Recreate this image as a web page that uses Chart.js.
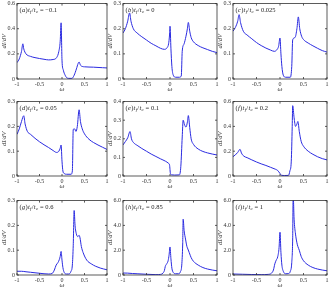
<!DOCTYPE html>
<html>
<head>
<meta charset="utf-8">
<script src="https://cdn.jsdelivr.net/npm/chart.js@4"></script>
<style>
  body { margin: 0; background: #fff; width: 332px; height: 292px; position: relative; overflow: hidden; }
  canvas { position: absolute; }
</style>
</head>
<body>
<script>
// omega grid + dI/dV values
const omegaA = [-1,-0.95,-0.9,-0.87,-0.85,-0.8,-0.7,-0.6,-0.5,-0.4,-0.3,-0.2,-0.12,-0.07,-0.04,-0.02,0,0.03,0.07,0.1,0.15,0.22,0.27,0.32,0.36,0.38,0.41,0.45,0.5,0.6,0.7,0.8,0.9,1];
const dosA   = [0.13,0.16,0.22,0.28,0.24,0.2,0.18,0.17,0.163,0.157,0.152,0.155,0.17,0.22,0.3,0.447,0.15,0.07,0.03,0.012,0.005,0.005,0.03,0.08,0.125,0.135,0.11,0.1,0.097,0.095,0.094,0.092,0.09,0.088];

const omegaB = [-1,-0.95,-0.9,-0.86,-0.83,-0.78,-0.7,-0.6,-0.5,-0.4,-0.3,-0.2,-0.12,-0.06,-0.03,-0.01,0,0.02,0.04,0.07,0.12,0.2,0.24,0.26,0.3,0.34,0.37,0.39,0.42,0.45,0.5,0.6,0.7,0.8,0.9,1];
const dosB   = [0.183,0.2,0.23,0.263,0.23,0.2,0.183,0.168,0.155,0.142,0.132,0.122,0.118,0.125,0.14,0.175,0.21,0.12,0.05,0.015,0.007,0.007,0.012,0.11,0.14,0.17,0.2,0.225,0.19,0.165,0.148,0.133,0.124,0.117,0.11,0.105];

const omegaC = [-1,-0.95,-0.9,-0.87,-0.84,-0.78,-0.7,-0.6,-0.5,-0.4,-0.3,-0.2,-0.12,-0.06,-0.03,0,0.02,0.04,0.07,0.12,0.22,0.25,0.27,0.32,0.36,0.39,0.42,0.46,0.5,0.6,0.7,0.8,0.9,1];
const dosC   = [0.19,0.205,0.23,0.256,0.225,0.19,0.175,0.16,0.145,0.133,0.123,0.115,0.11,0.118,0.13,0.163,0.1,0.05,0.015,0.007,0.007,0.05,0.156,0.165,0.2,0.247,0.2,0.17,0.157,0.143,0.132,0.122,0.113,0.107];

const omegaD = [-1,-0.95,-0.9,-0.85,-0.82,-0.77,-0.7,-0.6,-0.5,-0.4,-0.3,-0.2,-0.12,-0.07,-0.04,-0.02,0,0.02,0.05,0.1,0.2,0.23,0.25,0.28,0.31,0.34,0.38,0.41,0.45,0.5,0.6,0.7,0.8,0.9,1];
const dosD   = [0.168,0.19,0.22,0.243,0.21,0.18,0.168,0.152,0.138,0.126,0.115,0.103,0.095,0.1,0.112,0.125,0.06,0.02,0.01,0.007,0.007,0.02,0.188,0.19,0.18,0.2,0.267,0.22,0.19,0.17,0.148,0.135,0.125,0.116,0.107];

const omegaE = [-1,-0.95,-0.9,-0.85,-0.82,-0.77,-0.7,-0.6,-0.5,-0.4,-0.3,-0.2,-0.1,-0.03,-0.01,0.01,0.04,0.1,0.2,0.23,0.26,0.28,0.31,0.34,0.37,0.39,0.42,0.45,0.5,0.6,0.7,0.8,0.9,1];
const dosE   = [0.167,0.185,0.205,0.239,0.2,0.178,0.165,0.148,0.133,0.118,0.105,0.092,0.08,0.068,0.06,0.012,0.006,0.005,0.006,0.05,0.21,0.3,0.275,0.263,0.29,0.325,0.26,0.2,0.17,0.145,0.132,0.124,0.118,0.113];

const omegaF = [-1,-0.95,-0.9,-0.85,-0.82,-0.77,-0.7,-0.6,-0.5,-0.4,-0.3,-0.2,-0.1,-0.05,0,0.03,0.1,0.18,0.21,0.24,0.26,0.27,0.3,0.33,0.36,0.38,0.41,0.45,0.5,0.6,0.7,0.8,0.9,1];
const dosF   = [0.156,0.17,0.19,0.215,0.185,0.16,0.148,0.13,0.113,0.098,0.085,0.07,0.055,0.045,0.02,0.006,0.004,0.005,0.04,0.12,0.4,0.567,0.47,0.4,0.42,0.44,0.36,0.28,0.24,0.2,0.175,0.155,0.14,0.13];

const omegaG = [-1,-0.9,-0.8,-0.7,-0.6,-0.5,-0.4,-0.3,-0.22,-0.17,-0.13,-0.09,-0.06,-0.04,-0.02,0,0.02,0.05,0.1,0.15,0.2,0.23,0.25,0.27,0.29,0.32,0.35,0.38,0.4,0.43,0.47,0.55,0.65,0.75,0.85,1];
const dosG   = [0.015,0.015,0.013,0.011,0.009,0.007,0.005,0.004,0.006,0.02,0.04,0.05,0.062,0.075,0.095,0.06,0.03,0.01,0.004,0.004,0.015,0.04,0.12,0.26,0.2,0.165,0.155,0.16,0.15,0.115,0.09,0.06,0.045,0.035,0.028,0.021];

const omegaH = [-1,-0.9,-0.8,-0.7,-0.5,-0.3,-0.2,-0.15,-0.12,-0.1,-0.07,-0.04,-0.02,0,0.02,0.04,0.07,0.12,0.18,0.22,0.25,0.27,0.28,0.3,0.33,0.36,0.38,0.41,0.45,0.5,0.6,0.7,0.8,0.9,1];
const dosH   = [0.16,0.15,0.12,0.1,0.06,0.03,0.05,0.15,0.35,0.7,0.9,1.15,1.6,2.26,1.3,0.55,0.2,0.1,0.1,0.25,0.8,2.5,4.5,3.6,2.9,2.3,2.1,1.8,1.4,1.1,0.8,0.6,0.48,0.4,0.34];

const omegaI = [-1,-0.8,-0.6,-0.4,-0.25,-0.18,-0.14,-0.11,-0.08,-0.05,-0.02,0,0.02,0.04,0.07,0.12,0.18,0.22,0.25,0.27,0.28,0.3,0.33,0.36,0.38,0.41,0.45,0.5,0.6,0.7,0.8,0.9,1];
const dosI   = [0.08,0.06,0.04,0.03,0.05,0.15,0.4,0.9,1.2,1.45,2.2,3.45,1.8,0.8,0.3,0.1,0.12,0.3,1.0,3.0,6.5,4.5,3.3,2.6,2.3,2.0,1.5,1.15,0.8,0.6,0.48,0.4,0.34];

const panelLetters = ['a','b','c','d','e','f','g','h','i'];
const panelRatios = ['\u22120.1','0','0.025','0.05','0.1','0.2','0.6','0.85','1'];
const yMax = [0.6,0.3,0.3,0.3,0.4,0.6,0.3,6,6];
const yStep = [0.2,0.1,0.1,0.1,0.1,0.2,0.1,2,2];
const omegaSets = [omegaA,omegaB,omegaC,omegaD,omegaE,omegaF,omegaG,omegaH,omegaI];
const dosSets = [dosA,dosB,dosC,dosD,dosE,dosF,dosG,dosH,dosI];

const colLeft = [17, 123, 233], colRight = [107, 217, 327];
const rowTop = [2, 100, 199], rowBottom = [79, 176, 275];

const SERIF = '"Liberation Serif", "DejaVu Serif", serif';

function drawLabel(ctx, x, y, letter, ratio) {
  const parts = [
    ['(', 'normal', 6.5, 0], [letter, 'italic', 6.5, 0], [')', 'normal', 6.5, 0],
    ['t', 'italic', 6.5, 0], ['f', 'italic', 4.8, 1.5], ['/', 'normal', 6.5, 0],
    ['t', 'italic', 6.5, 0], ['c', 'italic', 4.8, 1.5], [' = ' + ratio, 'normal', 6.5, 0]
  ];
  ctx.fillStyle = '#222';
  ctx.textBaseline = 'alphabetic';
  ctx.textAlign = 'left';
  parts.forEach(p => {
    ctx.font = p[1] + ' ' + p[2] + 'px ' + SERIF;
    ctx.fillText(p[0], x, y + p[3]);
    x += ctx.measureText(p[0]).width + 0.3;
  });
}

const framePlugin = {
  id: 'frame',
  afterDraw(chart, args, opts) {
    const ctx = chart.ctx;
    const { left, top, right, bottom } = chart.chartArea;
    const xs = chart.scales.x, ys = chart.scales.y;
    ctx.save();
    ctx.strokeStyle = '#333';
    ctx.lineWidth = 0.8;
    ctx.strokeRect(left, top, right - left, bottom - top);
    ctx.beginPath();
    xs.ticks.forEach(t => {
      const p = xs.getPixelForValue(t.value);
      ctx.moveTo(p, bottom); ctx.lineTo(p, bottom - 2);
      ctx.moveTo(p, top); ctx.lineTo(p, top + 2);
    });
    ys.ticks.forEach(t => {
      const p = ys.getPixelForValue(t.value);
      ctx.moveTo(left, p); ctx.lineTo(left + 2, p);
      ctx.moveTo(right, p); ctx.lineTo(right - 2, p);
    });
    ctx.stroke();
    drawLabel(ctx, left + 2.5, top + 8, opts.letter, opts.ratio);
    ctx.restore();
  }
};

panelLetters.forEach((letter, i) => {
  const col = i % 3, row = Math.floor(i / 3);
  const plotW = colRight[col] - colLeft[col];
  const plotH = rowBottom[row] - rowTop[row];
  const padTop = 4, padRight = 4, yW = 17, xH = 14;
  const cv = document.createElement('canvas');
  cv.width = plotW + yW + padRight;
  cv.height = plotH + padTop + xH;
  cv.style.left = (colLeft[col] - yW) + 'px';
  cv.style.top = (rowTop[row] - padTop) + 'px';
  document.body.appendChild(cv);

  const pts = omegaSets[i].map((w, k) => ({ x: w, y: dosSets[i][k] }));
  const big = yMax[i] >= 1;

  new Chart(cv.getContext('2d'), {
    type: 'line',
    data: {
      datasets: [{
        data: pts,
        borderColor: '#2b2be0',
        borderWidth: 1,
        pointRadius: 0,
        cubicInterpolationMode: 'monotone',
        fill: false
      }]
    },
    options: {
      responsive: false,
      animation: false,
      layout: { padding: { top: padTop, right: padRight, left: 0, bottom: 0 } },
      plugins: {
        legend: { display: false },
        tooltip: { enabled: false },
        frame: { letter: letter, ratio: panelRatios[i] }
      },
      scales: {
        x: {
          type: 'linear', min: -1, max: 1,
          grid: { display: false, drawTicks: false },
          border: { display: false },
          ticks: {
            stepSize: 0.5, padding: 1.5, maxRotation: 0, autoSkip: false,
            color: '#333', font: { family: SERIF, size: 6 },
            callback: v => String(v)
          },
          title: { display: true, text: '\u03c9', color: '#333', padding: 0,
                   font: { family: SERIF, size: 7, style: 'italic' } },
          afterFit: s => { s.height = xH; }
        },
        y: {
          min: 0, max: yMax[i],
          grid: { display: false, drawTicks: false },
          border: { display: false },
          ticks: {
            stepSize: yStep[i], padding: 2,
            color: '#333', font: { family: SERIF, size: 6 },
            callback: v => v === 0 ? '0' : (big ? v.toFixed(1) : String(+v.toFixed(3)))
          },
          title: { display: true, text: 'dI/dV', color: '#333', padding: 0,
                   font: { family: SERIF, size: 6.5, style: 'italic' } },
          afterFit: s => { s.width = yW; }
        }
      }
    },
    plugins: [framePlugin]
  });
});
</script>
</body>
</html>
